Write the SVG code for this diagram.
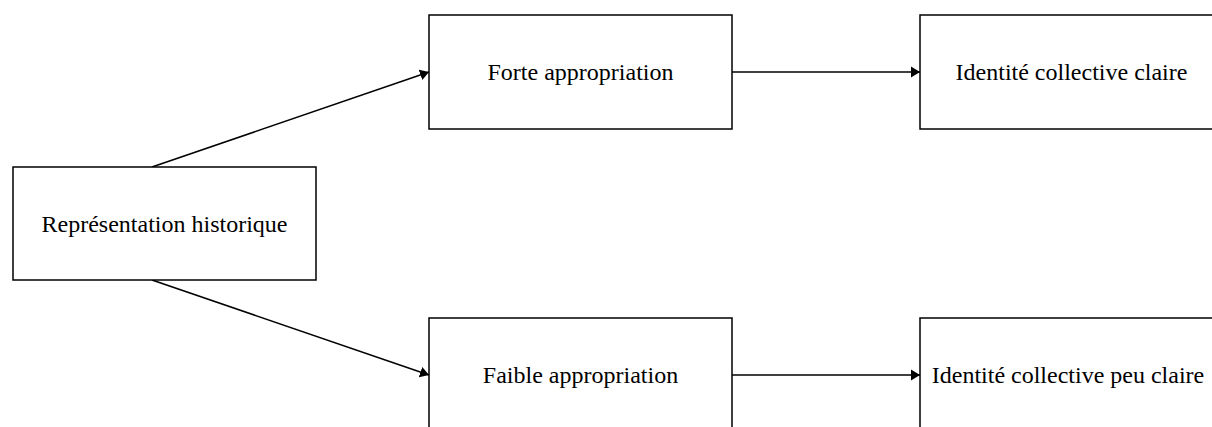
<svg xmlns="http://www.w3.org/2000/svg" width="1212" height="427" viewBox="0 0 1212 427">
<style>
.box{fill:#fff;stroke:#000;stroke-width:1.5}
.lbl{font-family:"Liberation Serif","Times New Roman",serif;font-size:24px;fill:#000;text-anchor:middle}
.edge{stroke:#000;stroke-width:1.6;fill:none;marker-end:url(#arr)}
</style>
<defs>
<marker id="arr" markerWidth="10" markerHeight="12" refX="9" refY="6" orient="auto" markerUnits="userSpaceOnUse">
<path d="M0,0.5 L9,6 L0,11.5 Z" fill="#000"/>
</marker>
</defs>
<rect width="1212" height="427" fill="#fff"/>
<g id="connectors">
<line class="edge" x1="152" y1="167" x2="429" y2="72"/>
<line class="edge" x1="152" y1="280" x2="429" y2="375"/>
<line class="edge" x1="732" y1="72" x2="920" y2="72"/>
<line class="edge" x1="732" y1="375" x2="920" y2="375"/>
</g>
<g id="n-representation">
<rect class="box" x="13" y="167" width="303" height="113"/>
<text class="lbl" x="164.5" y="231.5">Représentation historique</text>
</g>
<g id="n-forte">
<rect class="box" x="429" y="15" width="303" height="114"/>
<text class="lbl" x="580.5" y="80">Forte appropriation</text>
</g>
<g id="n-claire">
<rect class="box" x="920" y="15" width="303" height="114"/>
<text class="lbl" x="1071.5" y="80">Identité collective claire</text>
</g>
<g id="n-faible">
<rect class="box" x="429" y="318" width="303" height="114"/>
<text class="lbl" x="580.5" y="383">Faible appropriation</text>
</g>
<g id="n-peuclaire">
<rect class="box" x="920" y="318" width="303" height="114"/>
<text class="lbl" x="1068" y="383">Identité collective peu claire</text>
</g>
</svg>
